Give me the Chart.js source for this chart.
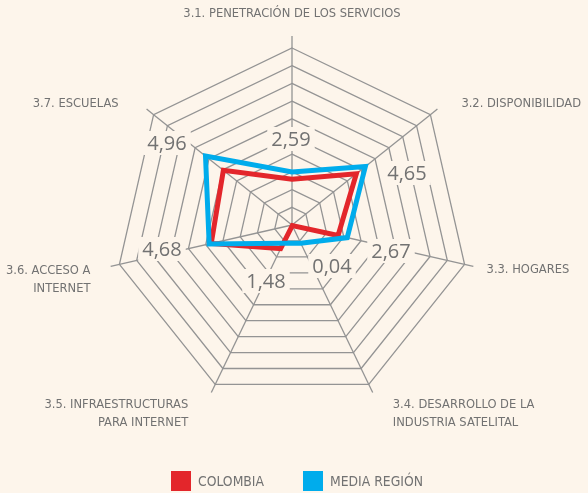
<!DOCTYPE html>
<html>
<head>
<meta charset="utf-8">
<script src="https://cdn.jsdelivr.net/npm/chart.js@4.4.0/dist/chart.umd.min.js"></script>
<style>
    html, body { margin: 0; padding: 0; background: #fdf5eb; }
    #wrap { width: 588px; height: 493px; }
</style>
</head>
<body>
<div id="wrap"><canvas id="myChart" width="588" height="493"></canvas></div>
<script>

var categories = [
    "3.1. PENETRACIÓN DE LOS SERVICIOS",
    "3.2. DISPONIBILIDAD",
    "3.3. HOGARES",
    ["3.4. DESARROLLO DE LA", "INDUSTRIA SATELITAL"],
    ["3.5. INFRAESTRUCTURAS", "PARA INTERNET"],
    ["3.6. ACCESO A", "INTERNET"],
    "3.7. ESCUELAS"
];
var colombia = [2.59, 4.65, 2.67, 0.04, 1.48, 4.68, 4.96];
var mediaRegion = [3.0, 5.3, 3.2, 1.15, 1.15, 4.8, 6.25];
var seriesNames = ["COLOMBIA", "MEDIA REGIÓN"];
var scaleMax = 10;

var RED = '#e3262b';
var BLUE = '#00acec';
var GRID = '#949494';
var TEXT = '#727272';
var BG = '#fdf5eb';
var narrow = '"Liberation Sans Narrow", "DejaVu Sans Condensed", "Roboto Condensed", "Arial Narrow", sans-serif';

// where the category labels sit, relative to the outer vertex of each axis
var catPlace = [
    { dx: 0, dy: -34, align: 'center' },
    { dx: 31, dy: -11, align: 'left' },
    { dx: 22, dy: 5, align: 'left' },
    { dx: 24, dy: 20, align: 'left' },
    { dx: -27, dy: 20, align: 'right' },
    { dx: -29, dy: 6, align: 'right' },
    { dx: -35, dy: -11, align: 'right' }
];
// where the value labels sit, relative to the center
var valPlace = [[-1, -86], [115, -52], [99, 26], [40, 41], [-26, 56], [-130, 24], [-125, -82]];

function fmt(v) {
    return v.toFixed(2).replace('.', ',');
}

var decor = {
    id: 'decor',
    beforeDraw: function(chart) {
        var ctx = chart.ctx;
        ctx.save();
        ctx.fillStyle = BG;
        ctx.fillRect(0, 0, chart.width, chart.height);
        ctx.restore();
    },
    beforeDatasetsDraw: function(chart) {
        var ctx = chart.ctx;
        var r = chart.scales.r;
        var R = r.drawingArea;
        var k = R / 177;
        ctx.save();
        // axis lines poke out past the outer ring
        ctx.strokeStyle = GRID;
        ctx.lineWidth = 1.3;
        for (var i = 0; i < categories.length; i++) {
            var a = r.getPointPosition(i, R);
            var b = r.getPointPosition(i, R + (i === 0 ? 12 : 9));
            ctx.beginPath();
            ctx.moveTo(a.x, a.y);
            ctx.lineTo(b.x, b.y);
            ctx.stroke();
        }
        // category labels
        ctx.fillStyle = TEXT;
        ctx.font = '12.8px ' + narrow;
        ctx.textBaseline = 'middle';
        for (var i = 0; i < categories.length; i++) {
            var p = r.getPointPosition(i, R);
            var lines = [].concat(categories[i]);
            ctx.textAlign = catPlace[i].align;
            for (var j = 0; j < lines.length; j++) {
                ctx.fillText(lines[j], p.x + catPlace[i].dx, p.y + catPlace[i].dy + j * 18);
            }
        }
        // value labels on a plain patch
        ctx.font = '20px "Open Sans", "Liberation Sans", sans-serif';
        ctx.textAlign = 'center';
        for (var i = 0; i < colombia.length; i++) {
            var x = r.xCenter + valPlace[i][0] * k;
            var y = r.yCenter + valPlace[i][1] * k;
            var txt = fmt(colombia[i]);
            var w = ctx.measureText(txt).width;
            ctx.fillStyle = BG;
            ctx.fillRect(x - w / 2 - 4, y - 12, w + 8, 24);
            ctx.fillStyle = TEXT;
            ctx.fillText(txt, x, y + 1);
        }
        ctx.restore();
    },
    afterDraw: function(chart) {
        var ctx = chart.ctx;
        var sets = chart.data.datasets;
        ctx.save();
        ctx.font = '13.8px ' + narrow;
        ctx.textBaseline = 'middle';
        ctx.textAlign = 'left';
        var box = 20, gap = 7, between = 39;
        var total = 0;
        for (var i = 0; i < sets.length; i++) {
            total += box + gap + ctx.measureText(sets[i].label).width;
        }
        total += between * (sets.length - 1);
        var x = Math.round(chart.width / 2 - total / 2) + 3;
        var y = 471;
        for (var i = 0; i < sets.length; i++) {
            ctx.fillStyle = sets[i].borderColor;
            ctx.fillRect(x, y, box, box);
            ctx.fillStyle = TEXT;
            ctx.fillText(sets[i].label, x + box + gap, y + box / 2 + 1);
            x += box + gap + ctx.measureText(sets[i].label).width + between;
        }
        ctx.restore();
    }
};

function makeChart() {
    var ctx = document.getElementById("myChart");
    var myChart = new Chart(ctx, {
        type: 'radar',
        data: {
            labels: categories,
            datasets: [{
                label: seriesNames[0],
                data: colombia,
                borderColor: RED,
                borderWidth: 5,
                borderJoinStyle: 'miter',
                fill: false,
                pointRadius: 0,
                order: 2
            },
            {
                label: seriesNames[1],
                data: mediaRegion,
                borderColor: BLUE,
                borderWidth: 5,
                borderJoinStyle: 'miter',
                fill: false,
                pointRadius: 0,
                order: 1
            }]
        },
        options: {
            responsive: false,
            animation: false,
            devicePixelRatio: 1,
            layout: { padding: { top: 48, bottom: 91, left: 115, right: 119 } },
            plugins: {
                legend: { display: false },
                tooltip: { enabled: false }
            },
            scales: {
                r: {
                    min: 0,
                    max: scaleMax,
                    ticks: { display: false, stepSize: 1 },
                    pointLabels: { display: false },
                    grid: { color: GRID, lineWidth: 1.3 },
                    angleLines: { color: GRID, lineWidth: 1.3 }
                }
            }
        },
        plugins: [decor]
    });
}

makeChart();
</script>
</body>
</html>
